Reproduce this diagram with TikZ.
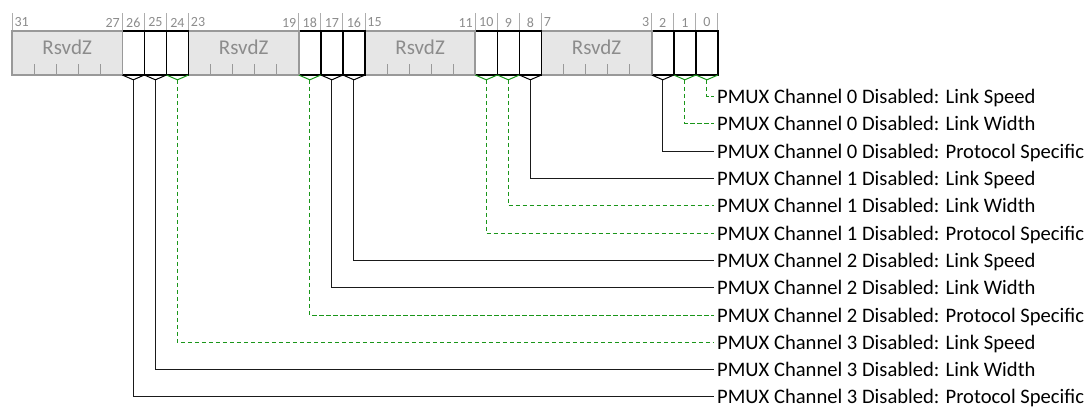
\documentclass[tikz,border=0pt]{standalone}
\usepackage{fontspec}
\setmainfont{Carlito}
\usetikzlibrary{calc}
\definecolor{rfill}{HTML}{E6E6E6}
\definecolor{rborder}{HTML}{999999}
\definecolor{rtext}{HTML}{8C8C8C}
\definecolor{lgreen}{HTML}{1A961A}
\definecolor{ldark}{HTML}{1A1A1A}
\begin{document}
\begin{tikzpicture}[x=1pt,y=-1pt,
  rsvdbox/.style={draw=rborder,fill=rfill,line width=1.6pt,inner sep=0pt,outer sep=0pt,minimum height=44pt},
  bitbox/.style={draw=black,fill=white,line width=1.6pt,inner sep=0pt,outer sep=0pt,minimum height=44pt,minimum width=22.06pt},
  rsvdtext/.style={text=rtext,font=\fontsize{21}{23}\selectfont,inner sep=0pt},
  rtick/.style={draw=rborder,line width=0.9pt},
  numline/.style={draw=rborder!80,line width=0.9pt},
  num/.style={text=rtext,font=\fontsize{14}{16}\selectfont,inner xsep=2.3pt,inner ysep=0pt},
  vblack/.style={draw=black,line width=1pt},
  vgreen/.style={draw=lgreen,line width=1pt},
  leadblack/.style={draw=ldark,line width=1pt},
  leadgreen/.style={draw=lgreen,line width=1.1pt,dash pattern=on 4.5pt off 2.5pt},
  lbl/.style={anchor=west,inner xsep=3.5pt,inner ysep=0pt,text height=13.3pt,text depth=0pt,font=\fontsize{20.6}{23}\selectfont,text=black}
]
\def\bw{22.06}
\path[use as bounding box] (0,0) rectangle (1088,408);

% number row separator lines
\foreach \b in {32,27,26,25,24,19,18,17,16,11,10,9,8,3,2,1,0}{
  \pgfmathsetmacro\xx{12+(32-\b)*\bw}
  \draw[numline] (\xx,13) -- (\xx,31);
}

% fields drawn from bit 0 to bit 31
\foreach \kind/\hi/\lo in {b/0/0,b/1/1,b/2/2,r/7/3,b/8/8,b/9/9,b/10/10,r/15/11,b/16/16,b/17/17,b/18/18,r/23/19,b/24/24,b/25/25,b/26/26,r/31/27}{
  \pgfmathsetmacro\xl{12+(31-\hi)*\bw}
  \pgfmathsetmacro\xr{12+(32-\lo)*\bw}
  \pgfmathsetmacro\xc{(\xl+\xr)/2}
  \pgfmathsetmacro\fwid{(\hi-\lo+1)*\bw}
  \if\kind r
    \node[rsvdbox,minimum width=\fwid pt] (f\hi) at (\xc,53) {};
    \node[rsvdtext] (t\hi) at (\xc,47.5) {RsvdZ};
    \foreach \k in {1,...,4}{
      \draw[rtick] ($(f\hi.south west)+(\k*\bw,0)$) -- ++(0,-11);
    }
    \node[num,anchor=west] (nh\hi) at (\xl,22.5) {\hi};
    \node[num,anchor=east] (nl\hi) at (\xr,22.5) {\lo};
  \else
    \node[bitbox] (f\hi) at (\xc,53) {};
    \coordinate (a\hi) at ($(f\hi.south)+(0,4.8)$);
    \node[num] (n\hi) at (\xc,22.5) {\hi};
  \fi
}

% V marks under single bits
\foreach \b in {2,8,16,17,25,26}{
  \draw[vblack] (f\b.south west) -- (a\b) -- (f\b.south east);
}
\foreach \b in {0,1,9,10,18,24}{
  \draw[vgreen] (f\b.south west) -- (a\b) -- (f\b.south east);
}

% labels and leaders
\foreach \i/\b/\txt/\sty in {
  1/0/{PMUX Channel 0 Disabled: Link Speed}/leadgreen,
  2/1/{PMUX Channel 0 Disabled: Link Width}/leadgreen,
  3/2/{PMUX Channel 0 Disabled: Protocol Specific}/leadblack,
  4/8/{PMUX Channel 1 Disabled: Link Speed}/leadblack,
  5/9/{PMUX Channel 1 Disabled: Link Width}/leadgreen,
  6/10/{PMUX Channel 1 Disabled: Protocol Specific}/leadgreen,
  7/16/{PMUX Channel 2 Disabled: Link Speed}/leadblack,
  8/17/{PMUX Channel 2 Disabled: Link Width}/leadblack,
  9/18/{PMUX Channel 2 Disabled: Protocol Specific}/leadgreen,
  10/24/{PMUX Channel 3 Disabled: Link Speed}/leadgreen,
  11/25/{PMUX Channel 3 Disabled: Link Width}/leadblack,
  12/26/{PMUX Channel 3 Disabled: Protocol Specific}/leadblack}{
  \pgfmathsetmacro\yy{floor(96.6+(\i-1)*27.3)+0.5}
  \node[lbl] (l\i) at (713.5,\yy) {\txt};
  \draw[\sty] (a\b) |- (l\i.west);
}
\end{tikzpicture}
\end{document}
